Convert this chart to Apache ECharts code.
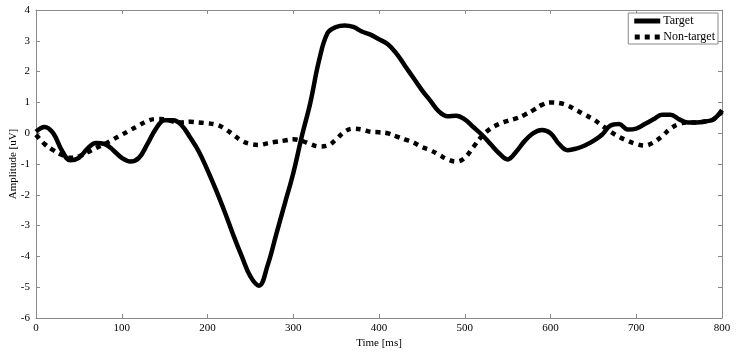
<!DOCTYPE html>
<html>
<head>
<meta charset="utf-8">
<script src="https://cdn.jsdelivr.net/npm/echarts@6/dist/echarts.min.js"></script>
<style>
  html, body { margin: 0; padding: 0; background: #fff; }
  #chart { width: 737px; height: 352px; }
</style>
</head>
<body>
<div id="chart"></div>
<script>
// time axis in ms, one sample every 10 ms
let times = [];
for(let t = 0; t <= 800; t += 10){ times.push(t); }

// grand averages (uV)
let target = [
    0.05, 0.2, 0.0, -0.55, -0.88, -0.8, -0.5, -0.32, -0.35, -0.55,
    -0.8, -0.92, -0.8, -0.35, 0.15, 0.42, 0.42, 0.25, -0.15, -0.6,
    -1.2, -1.85, -2.55, -3.3, -4.0, -4.65, -4.95, -4.3, -3.3, -2.3,
    -1.3, -0.1, 1.0, 2.35, 3.25, 3.45, 3.5, 3.45, 3.3, 3.2,
    3.05, 2.9, 2.6, 2.2, 1.8, 1.4, 1.05, 0.7, 0.55, 0.57,
    0.45, 0.2, -0.05, -0.35, -0.65, -0.85, -0.6, -0.25, 0.0, 0.1,
    0.0, -0.35, -0.55, -0.5, -0.4, -0.25, -0.05, 0.25, 0.3, 0.12,
    0.15, 0.3, 0.45, 0.6, 0.6, 0.45, 0.35, 0.35, 0.38, 0.45,
    0.75
];
let nonTarget = [
    -0.05, -0.35, -0.55, -0.7, -0.8, -0.75, -0.62, -0.48, -0.35, -0.2,
    -0.05, 0.1, 0.25, 0.4, 0.46, 0.45, 0.38, 0.35, 0.37, 0.35,
    0.32, 0.28, 0.15, -0.05, -0.25, -0.35, -0.38, -0.33, -0.28, -0.24,
    -0.2, -0.25, -0.35, -0.43, -0.4, -0.2, 0.05, 0.15, 0.12, 0.05,
    0.03, 0.0, -0.1, -0.2, -0.3, -0.45, -0.55, -0.7, -0.85, -0.92,
    -0.8, -0.45, -0.1, 0.15, 0.3, 0.4, 0.48, 0.6, 0.75, 0.92,
    1.0, 0.98, 0.9, 0.75, 0.6, 0.45, 0.25, 0.05, -0.12, -0.25,
    -0.35, -0.4, -0.3, -0.1, 0.15, 0.3, 0.35, 0.35, 0.38, 0.45,
    0.7
];

function pairs(xs, ys){
    let out = [];
    for(let i = 0; i < xs.length; i++){
        out.push([xs[i], ys[i]]);
    }
    return out;
}

let font = '"Liberation Serif", "DejaVu Serif", serif';
let axisCol = '#8a8a8a';

let chart = echarts.init(document.getElementById('chart'));
chart.setOption({
    animation: false,
    textStyle: { fontFamily: font },
    grid: { left: 36, right: 15, top: 10, bottom: 34, outerBoundsMode: 'none', containLabel: false },
    legend: {
        right: 19, top: 13,
        orient: 'vertical',
        itemGap: 4,
        itemWidth: 26, itemHeight: 5,
        padding: [2, 3, 1, 6],
        borderColor: axisCol, borderWidth: 1,
        backgroundColor: '#fff',
        textStyle: { fontFamily: font, fontSize: 12, color: '#000', padding: [0, 0, 0, -2] },
        data: [
            { name: 'Target', icon: 'rect' },
            { name: 'Non-target', icon: 'path://M0,0h5v5h-5z M10,0h5v5h-5z M20,0h5v5h-5z' }
        ]
    },
    xAxis: [
        {
            type: 'value', min: 0, max: 800, interval: 100,
            name: 'Time [ms]', nameLocation: 'middle', nameGap: 20,
            nameMoveOverlap: false,
            nameTextStyle: { fontFamily: font, fontSize: 11, color: '#000' },
            axisLine: { onZero: false, lineStyle: { color: axisCol } },
            axisTick: { inside: true, length: 4, lineStyle: { color: axisCol } },
            axisLabel: { fontFamily: font, fontSize: 11, color: '#000', margin: 5 },
            splitLine: { show: false }
        },
        {
            type: 'value', min: 0, max: 800, interval: 100, position: 'top',
            axisLine: { onZero: false, lineStyle: { color: axisCol } },
            axisTick: { inside: true, length: 4, lineStyle: { color: axisCol } },
            axisLabel: { show: false },
            splitLine: { show: false }
        }
    ],
    yAxis: [
        {
            type: 'value', min: -6, max: 4, interval: 1,
            name: 'Amplitude [uV]', nameLocation: 'middle', nameGap: 17,
            nameMoveOverlap: false,
            nameTextStyle: { fontFamily: font, fontSize: 11, color: '#000' },
            axisLine: { show: true, onZero: false, lineStyle: { color: axisCol } },
            axisTick: { show: true, inside: true, length: 4, lineStyle: { color: axisCol } },
            axisLabel: { fontFamily: font, fontSize: 11, color: '#000', margin: 6 },
            splitLine: { show: false }
        },
        {
            type: 'value', min: -6, max: 4, interval: 1, position: 'right',
            axisLine: { show: true, onZero: false, lineStyle: { color: axisCol } },
            axisTick: { show: true, inside: true, length: 4, lineStyle: { color: axisCol } },
            axisLabel: { show: false },
            splitLine: { show: false }
        }
    ],
    series: [
        {
            name: 'Target', type: 'line', smooth: 0.4, showSymbol: false,
            symbol: 'none',
            data: pairs(times, target),
            itemStyle: { color: '#000' },
            lineStyle: { color: '#000', width: 4.5 },
            z: 3
        },
        {
            name: 'Non-target', type: 'line', smooth: 0.4, showSymbol: false,
            symbol: 'none',
            data: pairs(times, nonTarget),
            itemStyle: { color: '#000' },
            lineStyle: { color: '#000', width: 4.5, type: [5, 5], cap: 'butt' },
            z: 2
        }
    ]
});
</script>
</body>
</html>
